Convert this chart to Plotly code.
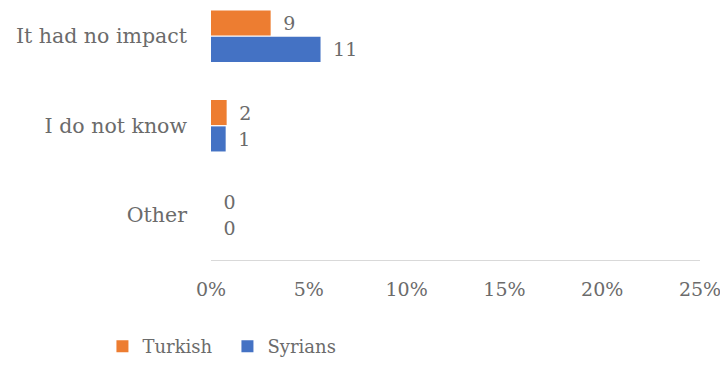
import plotly.graph_objects as go

categories = ["It had no impact", "I do not know", "Other"]
turkish_pct = [3.05, 0.8, 0.0]
syrians_pct = [5.6, 0.75, 0.0]
turkish_counts = [9, 2, 0]
syrians_counts = [11, 1, 0]
x_ticks = [0, 5, 10, 15, 20, 25]
x_tick_labels = ["0%", "5%", "10%", "15%", "20%", "25%"]

FONT = "DejaVu Serif"
GREY = "#6b6b6b"

fig = go.Figure()
fig.add_trace(go.Bar(
    name="Turkish", y=categories, x=turkish_pct, orientation="h",
    marker=dict(color="#ED7D31", line=dict(width=0)),
    text=[str(v) for v in turkish_counts],
    texttemplate="\u2002%{text}",
    textposition="outside", cliponaxis=False,
    textfont=dict(family=FONT, size=19, color=GREY),
))
fig.add_trace(go.Bar(
    name="Syrians", y=categories, x=syrians_pct, orientation="h",
    marker=dict(color="#4472C4", line=dict(width=0)),
    text=[str(v) for v in syrians_counts],
    texttemplate="\u2002%{text}",
    textposition="outside", cliponaxis=False,
    textfont=dict(family=FONT, size=19, color=GREY),
))

# page body adds an 8px offset; figure is sized to fit the 728x369 window
fig.update_layout(
    width=720, height=361,
    margin=dict(l=203, r=28, t=0, b=109, autoexpand=False),
    paper_bgcolor="white", plot_bgcolor="white",
    barmode="group", bargap=0.41, bargroupgap=0.05,
    font=dict(family=FONT, size=19, color=GREY),
    showlegend=True,
    legend=dict(orientation="h", x=-0.222, xanchor="left", y=-0.27, yanchor="top",
                font=dict(family=FONT, size=18, color=GREY), itemwidth=30,
                entrywidth=80, traceorder="normal"),
)
fig.update_xaxes(
    range=[0, 25], tickvals=x_ticks, ticktext=x_tick_labels,
    showgrid=False, zeroline=False, showline=True, linecolor="#d9d9d9", linewidth=1,
    ticks="", ticklabelstandoff=12, ticklabeloverflow="allow", automargin=False,
    tickfont=dict(family=FONT, size=19, color=GREY),
)
fig.update_yaxes(
    type="category", categoryorder="array", categoryarray=categories,
    range=[2.5, -0.315], showgrid=False, zeroline=False, showline=False,
    ticks="", ticklabelstandoff=23, automargin=False,
    tickfont=dict(family=FONT, size=20.5, color=GREY),
)

fig.write_html("out.html")
